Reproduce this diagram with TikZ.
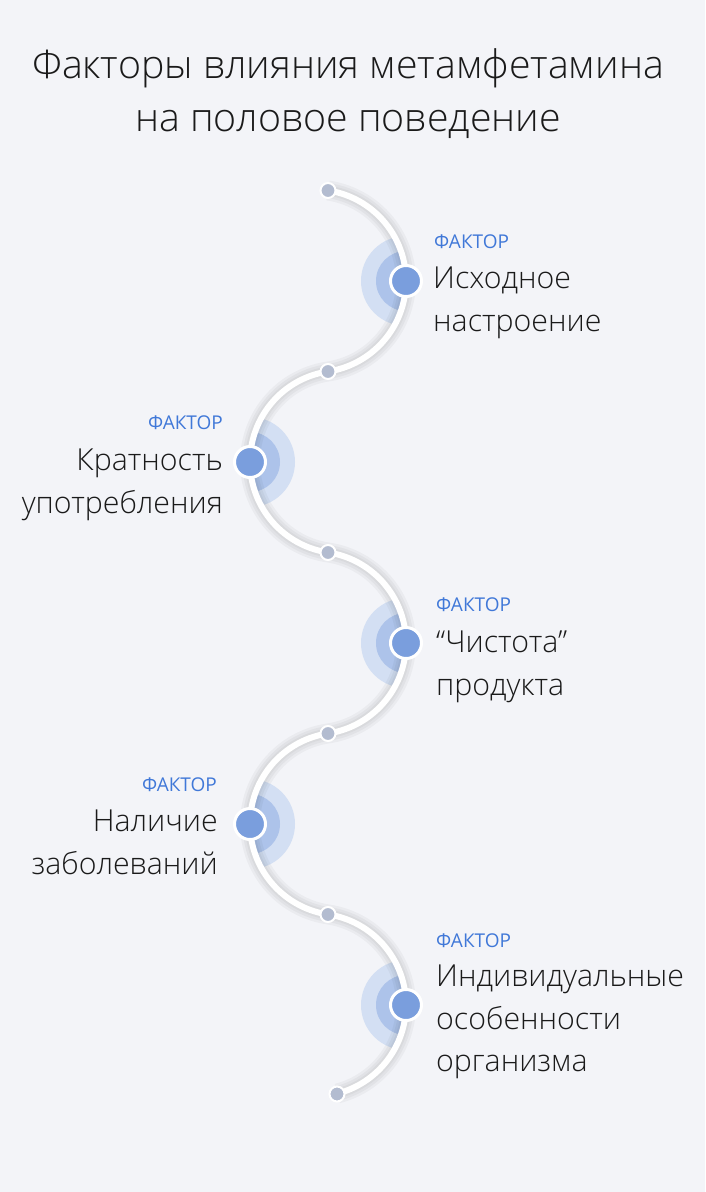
\documentclass[tikz,border=0pt]{standalone}
\usepackage{fontspec}
\usetikzlibrary{calc}
\IfFontExistsTF{Open Sans Light}{\setmainfont{Open Sans Light}}{\setmainfont{Open Sans}}
\newfontfamily\regfont{Open Sans}
\definecolor{bg}{HTML}{F3F4F8}
\definecolor{dotgray}{HTML}{B3BCD0}
\definecolor{dotblue}{HTML}{7A9EDD}
\definecolor{haloout}{HTML}{D3DFF3}
\definecolor{haloin}{HTML}{ADC3EA}
\definecolor{facblue}{HTML}{4078D8}
\definecolor{ink}{HTML}{1A1A1A}
\tikzset{
  smalldot/.style={circle,fill=dotgray,draw=white,line width=2pt,minimum size=15pt,inner sep=0pt},
  bigdot/.style={circle,fill=dotblue,draw=white,line width=3pt,minimum size=31pt,inner sep=0pt},
  trackline/.style={draw=white,line width=6pt},
  trackshadow/.style={draw=black,line width=#1,opacity=0.035},
  factag/.style={font=\regfont\fontsize{19}{20}\selectfont,text=facblue,inner sep=0pt},
  lab/.style={font=\fontsize{30.3}{42.5}\selectfont,text=ink,inner sep=0pt,align=#1},
  titletext/.style={font=\fontsize{39.3}{53}\selectfont,text=ink,align=center,inner sep=0pt}
}
\begin{document}
\begin{tikzpicture}[x=1pt,y=1pt]
\fill[bg] (0,0) rectangle (705,-1192);
\useasboundingbox (0,0) rectangle (705,-1192);
% centres of arcs
\coordinate (c1) at (314.5,-281);
\coordinate (c2) at (341.5,-462);
\coordinate (c3) at (314.5,-643);
\coordinate (c4) at (341.5,-824);
\coordinate (c5) at (314.5,-1005);
\coordinate (s1) at (328,-190.5);
\coordinate (s6) at (337,-1094);
% halos
\foreach \c in {c1,c3,c5}{
  \begin{scope}
    \clip (\c) circle (91.5pt);
    \fill[haloout] ($(\c)+(91.5,0)$) circle (45pt);
    \fill[haloin] ($(\c)+(91.5,0)$) circle (30pt);
  \end{scope}
}
\foreach \c in {c2,c4}{
  \begin{scope}
    \clip (\c) circle (91.5pt);
    \fill[haloout] ($(\c)+(-91.5,0)$) circle (45pt);
    \fill[haloin] ($(\c)+(-91.5,0)$) circle (30pt);
  \end{scope}
}
% track
\foreach \w in {20pt,15pt,10pt}{
\path[trackshadow=\w] (s1) arc[start angle=81.5,end angle=-81.5,radius=91.5pt]
  arc[start angle=98.5,end angle=261.5,radius=91.5pt]
  arc[start angle=81.5,end angle=-81.5,radius=91.5pt]
  arc[start angle=98.5,end angle=261.5,radius=91.5pt]
  arc[start angle=81.5,end angle=-75.5,radius=91.5pt];
}
\path[trackline] (s1) arc[start angle=81.5,end angle=-81.5,radius=91.5pt]
  arc[start angle=98.5,end angle=261.5,radius=91.5pt]
  arc[start angle=81.5,end angle=-81.5,radius=91.5pt]
  arc[start angle=98.5,end angle=261.5,radius=91.5pt]
  arc[start angle=81.5,end angle=-75.5,radius=91.5pt];
% dots
\node[smalldot] (d1) at (s1) {};
\node[smalldot] (d2) at (328,-371.5) {};
\node[smalldot] (d3) at (328,-552.5) {};
\node[smalldot] (d4) at (328,-733.5) {};
\node[smalldot] (d5) at (328,-914.5) {};
\node[smalldot] (d6) at (s6) {};
\node[bigdot] (b1) at (406,-281) {};
\node[bigdot] (b2) at (250,-462) {};
\node[bigdot] (b3) at (406,-643) {};
\node[bigdot] (b4) at (250,-824) {};
\node[bigdot] (b5) at (406,-1005) {};
% title
\node[titletext] (title) at (348,-94) {Факторы влияния метамфетамина\\на половое поведение};
% labels
\node[factag,anchor=west] (f1) at (434,-242) {ФАКТОР};
\node[lab=left,anchor=north west] (l1) at (433,-267) {Исходное\\настроение};
\node[factag,anchor=east] (f2) at (223,-423) {ФАКТОР};
\node[lab=right,anchor=north east] (l2) at (223,-449) {Кратность\\употребления};
\node[factag,anchor=west] (f3) at (436,-605) {ФАКТОР};
\node[lab=left,anchor=north west] (l3) at (436,-631) {“Чистота”\\продукта};
\node[factag,anchor=east] (f4) at (217,-785) {ФАКТОР};
\node[lab=right,anchor=north east] (l4) at (218,-810) {Наличие\\заболеваний};
\node[factag,anchor=west] (f5) at (436,-941) {ФАКТОР};
\node[lab=left,anchor=north west] (l5) at (436,-965) {Индивидуальные\\особенности\\организма};
\end{tikzpicture}
\end{document}
